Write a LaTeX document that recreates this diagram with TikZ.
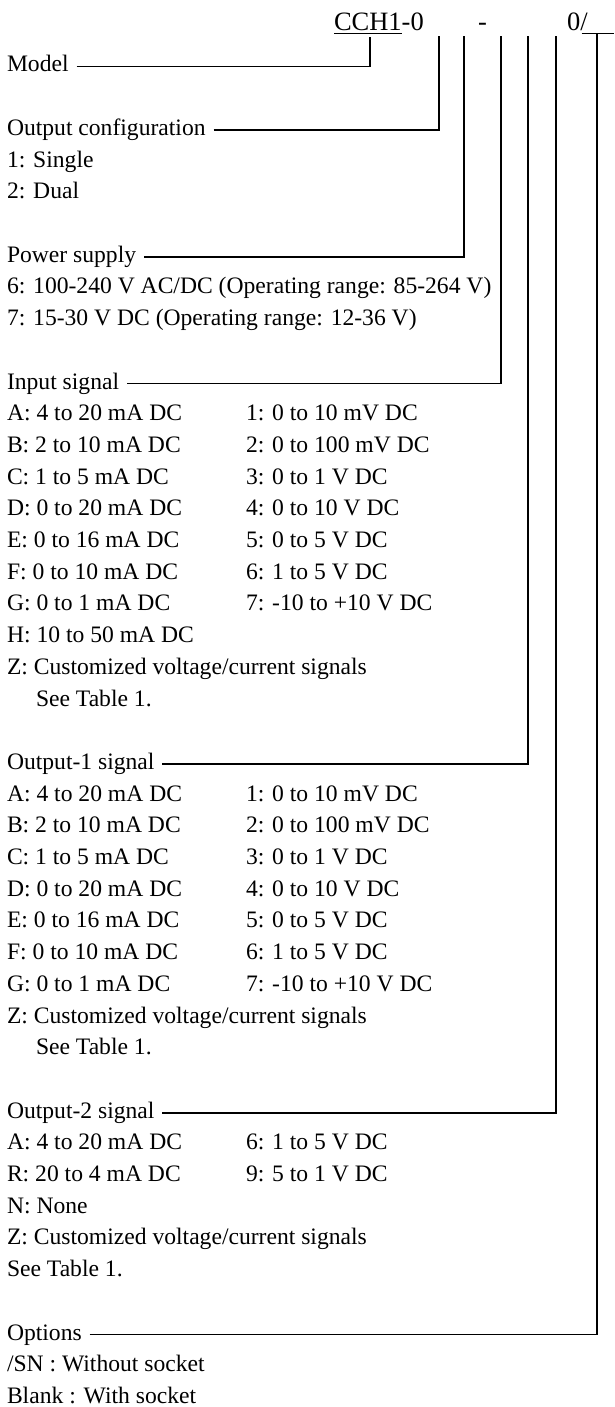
\documentclass[tikz,border=0pt]{standalone}
\usepackage{fontspec}
\setmainfont{Liberation Serif}
\begin{document}
\begin{tikzpicture}[x=1pt,y=-1pt,
  txt/.style={anchor=base west,inner sep=0pt,outer sep=0pt,font=\fontsize{23.6}{28}\selectfont},
  ttl/.style={anchor=base west,inner sep=0pt,outer sep=0pt,font=\fontsize{26.5}{30}\selectfont},
  conn/.style={draw=black,line width=1.8pt}]
\useasboundingbox (0,0) rectangle (614,1407);
\def\ry#1{{72+(#1-1)*31.7}}
% title
\node[ttl] (cch) at (334,31) {CCH1};
\node[ttl] (dz) at (cch.base east) {-0};
\node[ttl] (dash) at (478,31) {-};
\node[ttl] (zero) at (567,31) {0/};
\coordinate (ulend) at (614,33.5);
\draw[conn] ([yshift=-2.5pt]cch.base west) -- ([yshift=-2.5pt]cch.base east);
\draw[conn] ([shift={(-6,2.5)}]zero.base east) -- (ulend);
% tick tops
\coordinate (tModel) at (370,37);
\coordinate (tOC) at (439.3,36);
\coordinate (tPS) at (464,36);
\coordinate (tIN) at (501.3,36);
\coordinate (tO1) at (528.3,36);
\coordinate (tO2) at (556,36);
\coordinate (tOP) at (596.7,33.5);
% Model
\node[txt] (model) at (7,\ry{1}) {Model};
% Output configuration
\node[txt] (oc) at (7,\ry{3}) {Output configuration};
\node[txt] (oc1) at (7,\ry{4}) {1: Single};
\node[txt] (oc2) at (7,\ry{5}) {2: Dual};
% Power supply
\node[txt] (ps) at (7,\ry{7}) {Power supply};
\node[txt] (ps1) at (7,\ry{8}) {6: 100-240 V AC/DC (Operating range: 85-264 V)};
\node[txt] (ps2) at (7,\ry{9}) {7: 15-30 V DC (Operating range: 12-36 V)};
% Input signal
\node[txt] (in) at (7,\ry{11}) {Input signal};
\node[txt] (inA) at (7,\ry{12}) {A: 4 to 20 mA DC};
\node[txt] (inB) at (7,\ry{13}) {B: 2 to 10 mA DC};
\node[txt] (inC) at (7,\ry{14}) {C: 1 to 5 mA DC};
\node[txt] (inD) at (7,\ry{15}) {D: 0 to 20 mA DC};
\node[txt] (inE) at (7,\ry{16}) {E: 0 to 16 mA DC};
\node[txt] (inF) at (7,\ry{17}) {F: 0 to 10 mA DC};
\node[txt] (inG) at (7,\ry{18}) {G: 0 to 1 mA DC};
\node[txt] (inH) at (7,\ry{19}) {H: 10 to 50 mA DC};
\node[txt] (inZ) at (7,\ry{20}) {Z: Customized voltage/current signals};
\node[txt] (inS) at (36,\ry{21}) {See Table 1.};
\node[txt] (in1) at (246,\ry{12}) {1: 0 to 10 mV DC};
\node[txt] (in2) at (246,\ry{13}) {2: 0 to 100 mV DC};
\node[txt] (in3) at (246,\ry{14}) {3: 0 to 1 V DC};
\node[txt] (in4) at (246,\ry{15}) {4: 0 to 10 V DC};
\node[txt] (in5) at (246,\ry{16}) {5: 0 to 5 V DC};
\node[txt] (in6) at (246,\ry{17}) {6: 1 to 5 V DC};
\node[txt] (in7) at (246,\ry{18}) {7: -10 to +10 V DC};
% Output-1
\node[txt] (oa) at (7,\ry{23}) {Output-1 signal};
\node[txt] (oaA) at (7,\ry{24}) {A: 4 to 20 mA DC};
\node[txt] (oaB) at (7,\ry{25}) {B: 2 to 10 mA DC};
\node[txt] (oaC) at (7,\ry{26}) {C: 1 to 5 mA DC};
\node[txt] (oaD) at (7,\ry{27}) {D: 0 to 20 mA DC};
\node[txt] (oaE) at (7,\ry{28}) {E: 0 to 16 mA DC};
\node[txt] (oaF) at (7,\ry{29}) {F: 0 to 10 mA DC};
\node[txt] (oaG) at (7,\ry{30}) {G: 0 to 1 mA DC};
\node[txt] (oaZ) at (7,\ry{31}) {Z: Customized voltage/current signals};
\node[txt] (oaS) at (36,\ry{32}) {See Table 1.};
\node[txt] (oa1) at (246,\ry{24}) {1: 0 to 10 mV DC};
\node[txt] (oa2) at (246,\ry{25}) {2: 0 to 100 mV DC};
\node[txt] (oa3) at (246,\ry{26}) {3: 0 to 1 V DC};
\node[txt] (oa4) at (246,\ry{27}) {4: 0 to 10 V DC};
\node[txt] (oa5) at (246,\ry{28}) {5: 0 to 5 V DC};
\node[txt] (oa6) at (246,\ry{29}) {6: 1 to 5 V DC};
\node[txt] (oa7) at (246,\ry{30}) {7: -10 to +10 V DC};
% Output-2
\node[txt] (ob) at (7,\ry{34}) {Output-2 signal};
\node[txt] (obA) at (7,\ry{35}) {A: 4 to 20 mA DC};
\node[txt] (obR) at (7,\ry{36}) {R: 20 to 4 mA DC};
\node[txt] (obN) at (7,\ry{37}) {N: None};
\node[txt] (obZ) at (7,\ry{38}) {Z: Customized voltage/current signals};
\node[txt] (obS) at (7,\ry{39}) {See Table 1.};
\node[txt] (ob6) at (246,\ry{35}) {6: 1 to 5 V DC};
\node[txt] (ob9) at (246,\ry{36}) {9: 5 to 1 V DC};
% Options
\node[txt] (op) at (7,\ry{41}) {Options};
\node[txt] (opSN) at (7,\ry{42}) {/SN : Without socket};
\node[txt] (opBl) at (7,\ry{43}) {Blank : With socket};
% connectors
\draw[conn] ([shift={(8,-5.5)}]model.base east) -| (tModel);
\draw[conn] ([shift={(8,-5.5)}]oc.base east) -| (tOC);
\draw[conn] ([shift={(8,-5.5)}]ps.base east) -| (tPS);
\draw[conn] ([shift={(8,-5.5)}]in.base east) -| (tIN);
\draw[conn] ([shift={(8,-5.5)}]oa.base east) -| (tO1);
\draw[conn] ([shift={(8,-5.5)}]ob.base east) -| (tO2);
\draw[conn] ([shift={(8,-5.5)}]op.base east) -| (tOP);
\end{tikzpicture}
\end{document}
